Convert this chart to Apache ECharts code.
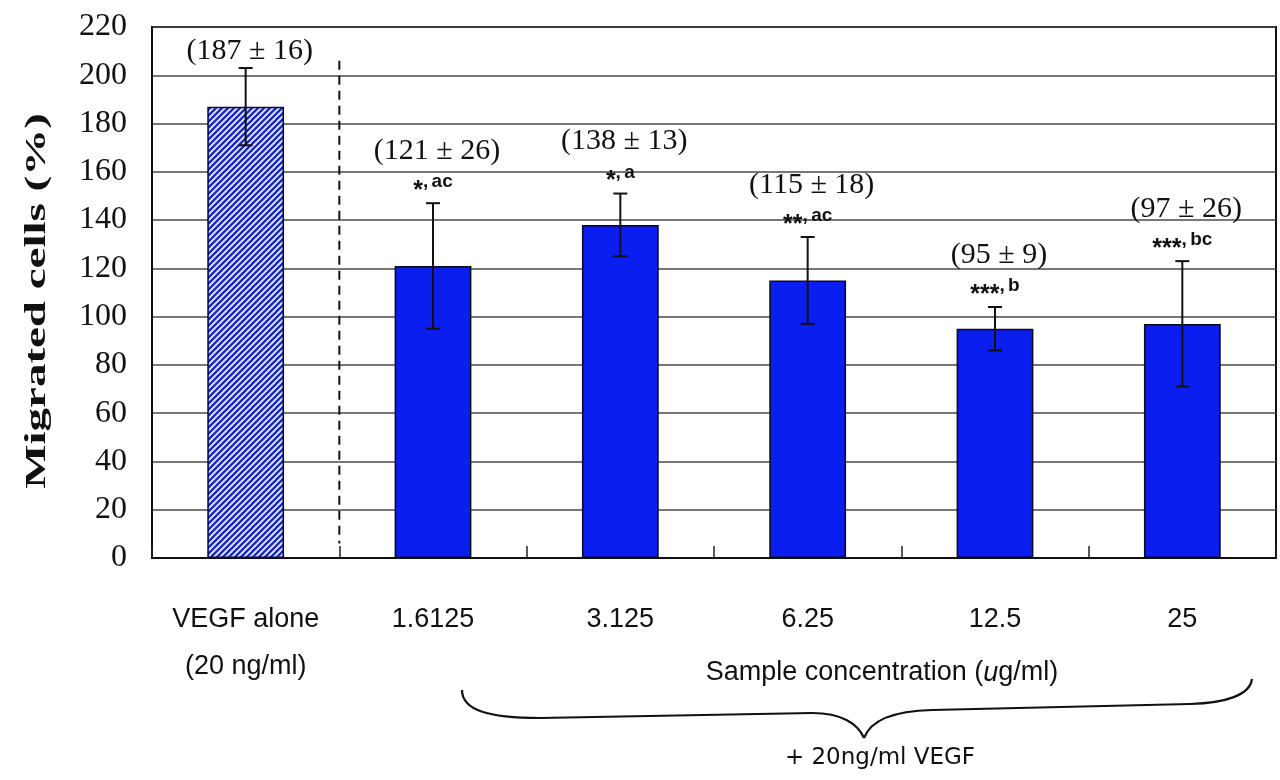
<!DOCTYPE html>
<html>
<head>
<meta charset="utf-8">
<script src="https://cdn.jsdelivr.net/npm/echarts@6/dist/echarts.min.js"></script>
<style>
  html, body { margin: 0; padding: 0; background: #ffffff; }
  #chart { width: 1280px; height: 780px; }
</style>
</head>
<body>
<div id="chart"></div>
<script>
// ---- data ----
const categories = ['VEGF alone\n(20 ng/ml)', '1.6125', '3.125', '6.25', '12.5', '25'];
const means = [187, 121, 138, 115, 95, 97];
const errors = [16, 26, 13, 18, 9, 26];
const sigMarks = ['', '*', '*', '**', '***', '***'];
const sigLetters = ['', 'ac', 'a', 'ac', 'b', 'bc'];
const yTicks = { min: 0, max: 220, interval: 20 };
const yTitle = 'Migrated cells (%)';
const groupTitle = 'Sample concentration ({i|u}g/ml)';
const groupNote = '+ 20ng/ml VEGF';
const dividerRange = [6, 206]; // value range of dashed separator

// ---- styles ----
const BLUE = '#0b1ef0';
const SERIF = '"Liberation Serif", "Times New Roman", serif';
const SANS = '"Liberation Sans", Arial, sans-serif';

function makeHatch() {
  const s = 6;
  const c = document.createElement('canvas');
  c.width = s; c.height = s;
  const ctx = c.getContext('2d');
  ctx.fillStyle = '#e4eaff';
  ctx.fillRect(0, 0, s, s);
  ctx.strokeStyle = '#1828c0';
  ctx.lineWidth = 2.3;
  ctx.beginPath();
  ctx.moveTo(0, s); ctx.lineTo(s, 0);
  ctx.moveTo(-s / 2, s / 2); ctx.lineTo(s / 2, -s / 2);
  ctx.moveTo(s / 2, s * 1.5); ctx.lineTo(s * 1.5, s / 2);
  ctx.stroke();
  return c;
}

const chart = echarts.init(document.getElementById('chart'), null, { renderer: 'canvas' });

const barData = means.map((v, i) => i === 0
  ? { value: v, itemStyle: { color: { image: makeHatch(), repeat: 'repeat' }, borderColor: '#0a0a40' } }
  : v);

const errData = means.map((m, i) => [i, m, errors[i]]);

const braceStyle = { fill: null, stroke: '#111', lineWidth: 2.2 };
function bez(p0, c1, c2, p1) {
  return { type: 'bezierCurve', shape: { x1: p0[0], y1: p0[1], cpx1: c1[0], cpy1: c1[1], cpx2: c2[0], cpy2: c2[1], x2: p1[0], y2: p1[1] }, style: braceStyle };
}
function seg(p0, p1) {
  return { type: 'line', shape: { x1: p0[0], y1: p0[1], x2: p1[0], y2: p1[1] }, style: braceStyle };
}

const option = {
  animation: false,
  backgroundColor: '#ffffff',
  grid: {
    left: 152, right: 4, top: 27, bottom: 222,
    show: true, borderColor: '#111', borderWidth: 2, backgroundColor: 'transparent'
  },
  xAxis: {
    type: 'category',
    data: categories,
    axisLine: { show: true, lineStyle: { color: '#111', width: 2 } },
    axisTick: { show: true, inside: true, length: 12, alignWithLabel: false, lineStyle: { color: '#222', width: 1.5 } },
    axisLabel: {
      margin: 38, fontFamily: SANS, fontSize: 27, lineHeight: 47, color: '#111', interval: 0
    },
    splitLine: { show: false }
  },
  yAxis: {
    type: 'value',
    min: yTicks.min, max: yTicks.max, interval: yTicks.interval,
    axisLine: { show: true, lineStyle: { color: '#111', width: 2 } },
    axisTick: { show: false },
    axisLabel: { margin: 25, fontFamily: SERIF, fontSize: 32, color: '#111' },
    splitLine: { show: true, lineStyle: { color: '#4a4a4a', width: 1.5 } }
  },
  series: [
    {
      type: 'bar',
      data: barData,
      barWidth: '41%',
      itemStyle: { color: BLUE, borderColor: '#0a0a20', borderWidth: 1.6 },
      z: 2
    },
    {
      type: 'custom',
      data: [[0]],
      z: 3,
      renderItem: function (params, api) {
        const a = api.coord([0, dividerRange[1]]);
        const b = api.coord([1, dividerRange[0]]);
        const x = (a[0] + b[0]) / 2;
        return {
          type: 'line',
          shape: { x1: x, y1: a[1], x2: x, y2: b[1] },
          style: { stroke: '#111', lineWidth: 2, lineDash: [9, 6] }
        };
      }
    },
    {
      type: 'custom',
      data: errData,
      z: 4,
      renderItem: function (params, api) {
        const i = api.value(0);
        const m = api.value(1);
        const e = api.value(2);
        const top = api.coord([i, m + e]);
        const bot = api.coord([i, m - e]);
        const cap = 7;
        const st = { stroke: '#111', lineWidth: 2 };
        const children = [
          { type: 'line', shape: { x1: top[0], y1: top[1], x2: bot[0], y2: bot[1] }, style: st },
          { type: 'line', shape: { x1: top[0] - cap, y1: top[1], x2: top[0] + cap, y2: top[1] }, style: st },
          { type: 'line', shape: { x1: bot[0] - cap, y1: bot[1], x2: bot[0] + cap, y2: bot[1] }, style: st }
        ];
        const hasSig = sigMarks[i] !== '';
        const valueY = hasSig ? top[1] - 52 : top[1] - 17;
        children.push({
          type: 'text',
          style: {
            text: '(' + m + ' \u00b1 ' + e + ')',
            x: top[0] + 4, y: valueY,
            align: 'center', verticalAlign: 'middle',
            fontFamily: SERIF, fontSize: 30, fill: '#111'
          }
        });
        if (hasSig) {
          children.push({
            type: 'text',
            style: {
              text: '{s|' + sigMarks[i] + '}{c|,} {l|' + sigLetters[i] + '}',
              x: top[0], y: top[1] - 15,
              align: 'center', verticalAlign: 'middle',
              rich: {
                s: { fontFamily: SANS, fontWeight: 'bold', fontSize: 25, fill: '#111', verticalAlign: 'bottom', padding: [6, 0, 0, 0] },
                c: { fontFamily: SANS, fontWeight: 'bold', fontSize: 19, fill: '#111', verticalAlign: 'top', padding: [0, 0, 0, 0] },
                l: { fontFamily: SANS, fontWeight: 'bold', fontSize: 19, fill: '#111', verticalAlign: 'top' }
              }
            }
          });
        }
        return { type: 'group', children: children };
      }
    }
  ],
  graphic: [
    {
      type: 'text',
      x: 38, y: 301,
      rotation: Math.PI / 2,
      scaleX: 1.62,
      style: {
        text: yTitle,
        fontFamily: SERIF, fontWeight: 'bold', fontSize: 29,
        align: 'center', verticalAlign: 'middle', fill: '#111'
      }
    },
    {
      type: 'text',
      x: 882, y: 673,
      style: {
        text: groupTitle,
        fontFamily: SANS, fontSize: 27, fill: '#111',
        align: 'center', verticalAlign: 'middle',
        rich: { i: { fontFamily: SANS, fontSize: 27, fontStyle: 'italic', fill: '#111' } }
      }
    },
    {
      type: 'group',
      children: [
        bez([462, 690], [462, 710], [488, 718], [540, 718]),
        seg([540, 718], [812, 713]),
        bez([812, 713], [842, 713], [858, 724], [864, 738]),
        bez([864, 738], [870, 722], [890, 711], [932, 710]),
        seg([932, 710], [1190, 704]),
        bez([1190, 704], [1226, 703], [1250, 695], [1252, 679])
      ]
    },
    {
      type: 'text',
      x: 880, y: 758,
      style: {
        text: groupNote,
        fontFamily: '"DejaVu Sans", sans-serif', fontSize: 23, fill: '#111',
        align: 'center', verticalAlign: 'middle'
      }
    }
  ]
};

chart.setOption(option);
</script>
</body>
</html>
